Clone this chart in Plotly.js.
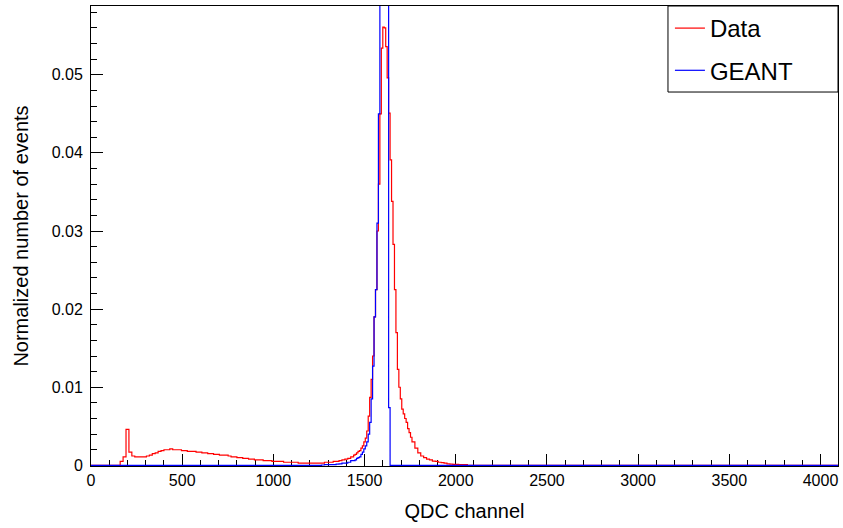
<!DOCTYPE html>
<html>
<head>
<meta charset="utf-8">
<script src="https://cdn.plot.ly/plotly-3.0.1.min.js"></script>
<style>html,body{margin:0;padding:0;background:#fff;}#chart{width:843px;height:528px;}</style>
</head>
<body>
<div id="chart"></div>
<script>
// ---- Data ----
// "Data" histogram, three segments of bins
const dataLowStart = 160, dataLowWidth = 16;
const dataLowValues = [
  0.0005, 0.0011, 0.0046, 0.0017, 0.0012, 0.0011, 0.0011, 0.0011, 0.0011, 0.0012,
  0.0013, 0.0015, 0.0016, 0.0018, 0.0019, 0.0020, 0.0020, 0.0021, 0.0020, 0.0020,
  0.0020, 0.0019, 0.0019, 0.0018, 0.0018, 0.0018, 0.0017, 0.0017, 0.0016, 0.0016,
  0.0015, 0.0015, 0.0014, 0.0014, 0.0013, 0.0013, 0.0013, 0.0012, 0.0011, 0.0011,
  0.0010, 0.0010, 0.0009, 0.0009, 0.0008, 0.0008, 0.0007, 0.0007, 0.0007, 0.0006,
  0.0006, 0.0006, 0.0005, 0.0005, 0.0005, 0.0005, 0.0004, 0.0004, 0.0004, 0.0004,
  0.0004, 0.0003, 0.0003, 0.0003, 0.0003, 0.0003, 0.0003, 0.0003, 0.0003, 0.0003,
  0.0004, 0.0004, 0.0004, 0.0005, 0.0005, 0.0006, 0.0007, 0.0008, 0.0009, 0.0011
];
const dataPeakStart = 1440, dataPeakWidth = 8;
const dataPeakValues = [
  0.0013, 0.0014, 0.0016, 0.0018, 0.0019, 0.0022, 0.0025, 0.0030, 0.0035, 0.0044,
  0.0063, 0.0087, 0.0110, 0.0140, 0.0190, 0.0225, 0.0300, 0.0360, 0.0450, 0.0534,
  0.0561, 0.0560, 0.0536, 0.0496, 0.0451, 0.0391, 0.0338, 0.0283, 0.0225, 0.0170,
  0.0123, 0.0100, 0.0085, 0.0072, 0.0066, 0.0060, 0.0055, 0.0047, 0.0042, 0.0036
];
const dataTailStart = 1760, dataTailWidth = 16;
const dataTailValues = [
  0.0030, 0.0022, 0.0016, 0.0012, 0.0010, 0.0008, 0.0007, 0.00055, 0.0005, 0.0004,
  0.00035, 0.0003, 0.0002, 0.00015, 0.00013, 0.00012, 0.0001, 0.0001, 0.0001
];

// "GEANT" histogram
const geantLowStart = 1264, geantLowWidth = 16;
const geantLowValues = [
  0.00005, 0.0001, 0.0001, 0.0001, 0.0001, 0.00015, 0.0002, 0.0003, 0.0003, 0.0004, 0.0006
];
const geantPeakStart = 1440, geantPeakWidth = 8;
const geantPeakValues = [
  0.0006, 0.0007, 0.0009, 0.0010, 0.0011, 0.0014, 0.0017, 0.0021, 0.0025, 0.0030,
  0.0040, 0.0055, 0.0085, 0.0127, 0.0190, 0.0225, 0.0310, 0.0450, 0.1200, 0.1800,
  0.2000, 0.1700, 0.1200, 0.0900, 0.0074
];

const axisMin = 0, axisMax = 4096;
const xTickVals = [0, 500, 1000, 1500, 2000, 2500, 3000, 3500, 4000];
const yTickVals = [0, 0.01, 0.02, 0.03, 0.04, 0.05];
const yTickText = ['0', '0.01', '0.02', '0.03', '0.04', '0.05'];
const seriesNames = ['Data', 'GEANT'];

// ---- build step outlines ----
function stepOutline(segments) {
  const x = [axisMin], y = [0];
  let lastEdge = null;
  segments.forEach(function (s) {
    if (lastEdge !== null && lastEdge < s.start) { x.push(lastEdge); y.push(0); }
    s.values.forEach(function (v, i) { x.push(s.start + i * s.width); y.push(v); });
    lastEdge = s.start + s.values.length * s.width;
  });
  x.push(lastEdge); y.push(0);
  x.push(axisMax); y.push(0);
  return {x: x, y: y};
}

const dataXY = stepOutline([
  {start: dataLowStart, width: dataLowWidth, values: dataLowValues},
  {start: dataPeakStart, width: dataPeakWidth, values: dataPeakValues},
  {start: dataTailStart, width: dataTailWidth, values: dataTailValues}
]);
const geantXY = stepOutline([
  {start: geantLowStart, width: geantLowWidth, values: geantLowValues},
  {start: geantPeakStart, width: geantPeakWidth, values: geantPeakValues}
]);

const FONT = 'Liberation Sans, Arial, Helvetica, sans-serif';

const traces = [
  {x: dataXY.x, y: dataXY.y, type: 'scatter', mode: 'lines', name: seriesNames[0],
   line: {shape: 'hv', color: '#ff0000', width: 1.2}, legendgroup: 'a'},
  {x: geantXY.x, y: geantXY.y, type: 'scatter', mode: 'lines', name: seriesNames[1],
   line: {shape: 'hv', color: '#0000ff', width: 1.2}, legendgroup: 'b'}
];

const layout = {
  width: 843, height: 528,
  margin: {l: 91, r: 5, t: 6, b: 62},
  paper_bgcolor: '#ffffff', plot_bgcolor: '#ffffff',
  font: {family: FONT, color: '#000000'},
  showlegend: true,
  legend: {x: 0.775, y: 1.0, xanchor: 'left', yanchor: 'top', bgcolor: 'rgba(0,0,0,0)',
           borderwidth: 0, font: {size: 24, family: FONT}, tracegroupgap: 8,
           traceorder: 'grouped'},
  shapes: [{type: 'rect', xref: 'paper', yref: 'paper', x0: 0.7724, x1: 1, y0: 0.813, y1: 1,
            line: {color: '#000000', width: 1}, fillcolor: '#ffffff', layer: 'above'}],
  xaxis: {
    range: [axisMin, axisMax], showgrid: false, zeroline: false,
    showline: true, linecolor: '#000000', linewidth: 1, mirror: true,
    ticks: 'inside', ticklen: 12, tickcolor: '#000000', tickwidth: 1,
    tickvals: xTickVals, tickfont: {size: 16, family: FONT},
    minor: {dtick: 100, tick0: 0, ticks: 'inside', ticklen: 6, tickcolor: '#000000', showgrid: false},
    title: {text: 'QDC channel', font: {size: 20, family: FONT}, standoff: 15},
    layer: 'below traces'
  },
  yaxis: {
    range: [-0.00008, 0.0588], showgrid: false, zeroline: false,
    showline: true, linecolor: '#000000', linewidth: 1, mirror: true,
    ticks: 'inside', ticklen: 12, tickcolor: '#000000', tickwidth: 1,
    tickvals: yTickVals, ticktext: yTickText, tickfont: {size: 16, family: FONT},
    ticklabelstandoff: 4,
    minor: {dtick: 0.002, tick0: 0, ticks: 'inside', ticklen: 6, tickcolor: '#000000', showgrid: false},
    title: {text: 'Normalized number of events', font: {size: 20, family: FONT}, standoff: 17},
    layer: 'below traces'
  }
};

Plotly.newPlot('chart', traces, layout, {staticPlot: true, displayModeBar: false});
</script>
</body>
</html>
